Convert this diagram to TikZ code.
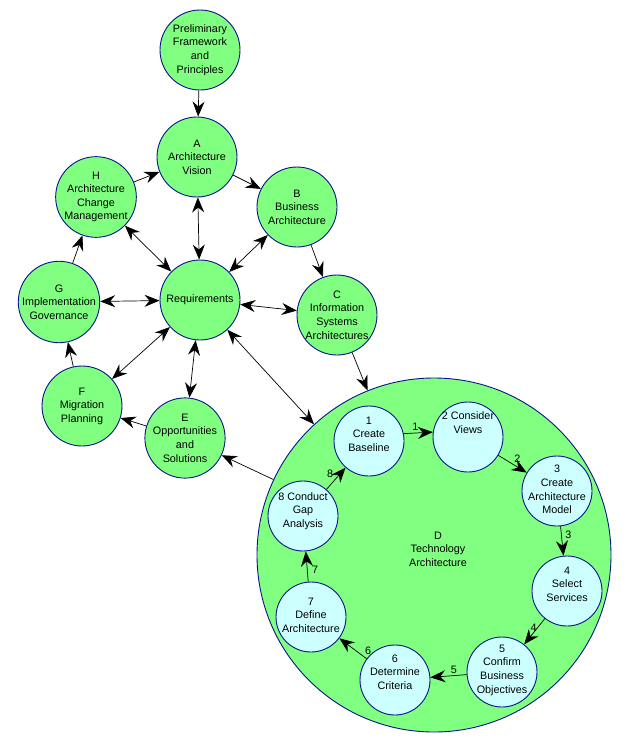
\documentclass[tikz,border=0pt]{standalone}
\usepackage{fontspec}
\setmainfont{Liberation Sans}
\usetikzlibrary{arrows.meta}
\definecolor{circgreen}{RGB}{128,255,128}
\definecolor{circcyan}{RGB}{204,255,255}
\definecolor{circborder}{RGB}{10,20,140}
\newcommand\liftedtext[2]{\raisebox{#1}[0pt][0pt]{\begin{tabular}{@{}c@{}}#2\end{tabular}}}
\begin{document}
\begin{tikzpicture}[x=1pt,y=-1pt,
  phase/.style={circle, draw=circborder, fill=circgreen, line width=0.9pt, minimum size=80pt, inner sep=0pt, align=center, font=\fontsize{10.8}{13.6}\selectfont},
  bigphase/.style={circle, draw=circborder, fill=circgreen, line width=0.9pt, minimum size=354pt, inner sep=0pt},
  substep/.style={circle, draw=circborder, fill=circcyan, line width=0.9pt, minimum size=70pt, inner sep=0pt, align=center, font=\fontsize{10.8}{13.6}\selectfont},
  plain/.style={align=center, font=\fontsize{10.8}{13.6}\selectfont, inner sep=0pt},
  lbl/.style={font=\fontsize{10.8}{13}\selectfont, inner sep=1.5pt},
  conn/.style={line width=0.7pt, -{Stealth[length=15pt,width=12pt,inset=5pt]}},
  biconn/.style={line width=0.7pt, {Stealth[length=15pt,width=12pt,inset=5pt]}-{Stealth[length=15pt,width=12pt,inset=5pt]}}
]
\useasboundingbox[fill=white] (0,0) rectangle (625,745);
% outer phases
\node[phase] (P) at (200,50) {Preliminary\\Framework\\and\\Principles};
\node[phase] (A) at (197,157) {A\\Architecture\\Vision};
\node[phase] (B) at (297,207) {B\\Business\\Architecture};
\node[phase] (C) at (337,315) {C\\Information\\Systems\\Architectures};
\node[phase] (R) at (200,300) {Requirements};
\node[phase] (H) at (96,197) {H\\Architecture\\Change\\Management};
\node[phase] (G) at (59,302) {G\\Implementation\\Governance};
\node[phase] (F) at (82,406) {F\\Migration\\Planning};
\node[phase] (E) at (185,438) {E\\Opportunities\\and\\Solutions};
% big D
\node[bigphase] (D) at (434,555) {};
\node[plain] (Dtext) at (438,549) {D\\Technology\\Architecture};
% inner steps
\node[substep] (s1) at (369,441) {\liftedtext{3.3pt}{1\\Create\\Baseline}};
\node[substep] (s2) at (468,437) {\liftedtext{10.3pt}{2 Consider\\Views}};
\node[substep] (s3) at (557,491) {\liftedtext{-2.4pt}{3\\Create\\Architecture\\Model}};
\node[substep] (s4) at (567,591) {\liftedtext{3.3pt}{4\\Select\\Services}};
\node[substep] (s5) at (502,672) {\liftedtext{-0.7pt}{5\\Confirm\\Business\\Objectives}};
\node[substep] (s6) at (395,680) {\liftedtext{4.3pt}{6\\Determine\\Criteria}};
\node[substep] (s7) at (311,617) {\liftedtext{-1.7pt}{7\\Define\\Architecture}};
\node[substep] (s8) at (303,516) {\liftedtext{2.3pt}{8 Conduct\\Gap\\Analysis}};
% outer connectors
\draw[conn] (P) -- (A);
\draw[conn] (A) -- (B);
\draw[conn] (B) -- (C);
\draw[conn] (C) -- (D);
\draw[conn] (D) -- (E);
\draw[conn] (E) -- (F);
\draw[conn] (F) -- (G);
\draw[conn] (G) -- (H);
\draw[conn] (H) -- (A);
\draw[biconn] (R) -- (A);
\draw[biconn] (R) -- (B);
\draw[biconn] (R) -- (C);
\draw[biconn] (R) -- (D);
\draw[biconn] (R) -- (E);
\draw[biconn] (R) -- (F);
\draw[biconn] (R) -- (G);
\draw[biconn] (R) -- (H);
% inner connectors
\draw[conn] (s1.12) -- node[lbl, pos=0.4, above=1pt] {1} (s2.172);
\draw[conn] (s2) -- node[lbl, pos=0.5, above right=0pt] {2} (s3);
\draw[conn] (s3) -- node[lbl, pos=0.3, right=2pt] {3} (s4);
\draw[conn] (s4) -- node[lbl, pos=0.35, left=-1pt] {4} (s5);
\draw[conn] (s5) -- node[lbl, pos=0.35, above] {5} (s6);
\draw[conn] (s6) -- node[lbl, pos=0.12, above right=0pt] {6} (s7);
\draw[conn] (s7) -- node[lbl, pos=0.4, right=3pt] {7} (s8);
\draw[conn] (s8) -- node[lbl, pos=0.45, above left=0pt] {8} (s1);
\end{tikzpicture}
\end{document}
